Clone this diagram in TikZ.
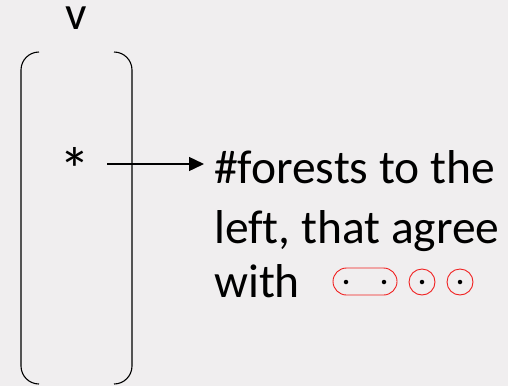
\documentclass[tikz,border=0pt]{standalone}
\usepackage{fontspec}
\setmainfont[Ligatures=NoCommon]{Carlito}
\usetikzlibrary{arrows.meta}
\definecolor{paper}{HTML}{F0EEEF}
\definecolor{ringred}{HTML}{F02020}
\begin{document}
\begin{tikzpicture}[x=1pt,y=-1pt,
  bracket/.style={draw=black,line width=1.1pt,rounded corners=18pt},
  ring/.style={draw=ringred,line width=0.9pt},
  dot/.style={fill=black,circle,inner sep=0pt,minimum size=4.5pt},
  big/.style={inner sep=0pt,font=\fontsize{47.5}{50}\selectfont},
  label/.style={big,anchor=base west}]
  % canvas
  \fill[paper] (0,0) rectangle (508,386);
  \useasboundingbox (0,0) rectangle (508,386);

  % vector heading and entry
  \node[big,anchor=center] (v) at (76.5,18) {v};
  \node[inner sep=0pt,font=\fontsize{62}{64}\selectfont,anchor=center] (star) at (74.5,169) {*};

  % round brackets
  \draw[bracket] (39,52) -| (21,384) -- (39,384);
  \draw[bracket] (114,52) -| (132,384) -- (114,384);

  % explanation
  \node[label] (l1) at (214,183) {\#forests to the};
  \node[label] (l2) at (214,243) {left, that agree};
  \node[label] (l3) at (214,297) {with};

  \coordinate (tail) at (107,164);
  \coordinate (head) at (204,164);
  \draw[line width=1.4pt,-{Triangle[length=15pt,width=14pt]}] (tail) -- (head);

  % pattern: a pair and two singletons
  \draw[ring,rounded corners=13.5pt] (333,268) rectangle (397,295);
  \node[ring,circle,minimum size=26pt,inner sep=0pt] (c1) at (422,282) {};
  \node[ring,circle,minimum size=26pt,inner sep=0pt] (c2) at (460,282) {};
  \node[dot] (d1) at (346,282) {};
  \node[dot] (d2) at (384,282) {};
  \node[dot] (d3) at (c1) {};
  \node[dot] (d4) at (c2) {};
\end{tikzpicture}
\end{document}
